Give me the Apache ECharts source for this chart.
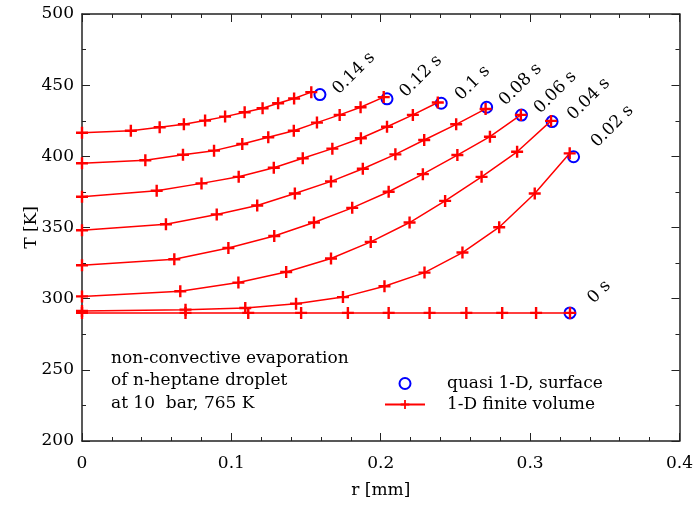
<!DOCTYPE html>
<html><head><meta charset="utf-8">
<script src="https://cdn.jsdelivr.net/npm/echarts@6/dist/echarts.min.js"></script>
<style>html,body{margin:0;padding:0;background:#fff}#c{width:696px;height:508px}</style>
</head><body><div id="c"></div>
<script>
// ---- data ----
const timeLabels = ['0 s', '0.02 s', '0.04 s', '0.06 s', '0.08 s', '0.1 s', '0.12 s', '0.14 s'];

const r_t000 = [0, 0.0693, 0.1113, 0.1467, 0.178, 0.2053, 0.2327, 0.2573, 0.2813, 0.304, 0.3267];
const T_t000 = [290, 290, 290, 290, 290, 290, 290, 290, 290, 290, 290];
const r_t002 = [0, 0.0693, 0.1093, 0.1433, 0.1747, 0.2025, 0.2293, 0.2547, 0.2793, 0.3031, 0.3265];
const T_t002 = [291.3, 292.3, 293.4, 296.5, 301.1, 308.7, 318.3, 332.4, 350.2, 373.9, 402.1];
const r_t004 = [0, 0.0658, 0.1047, 0.1367, 0.1667, 0.1933, 0.2193, 0.2431, 0.2675, 0.2913, 0.314];
const T_t004 = [301.6, 305.2, 311.3, 318.7, 328.2, 339.9, 353.5, 368.7, 385.6, 403.2, 424.9];
const r_t006 = [0, 0.0618, 0.098, 0.1287, 0.1553, 0.1809, 0.2053, 0.2282, 0.2513, 0.2731, 0.2938];
const T_t006 = [323.5, 327.7, 335.6, 344, 353.5, 363.8, 375.1, 387.5, 400.9, 413.8, 429.1];
const r_t008 = [0, 0.0562, 0.0902, 0.1173, 0.1425, 0.1667, 0.188, 0.2098, 0.2291, 0.2505, 0.2702];
const T_t008 = [348.1, 352.3, 359.2, 365.5, 373.9, 382.4, 391.3, 401.4, 411.5, 422.5, 433.3];
const r_t010 = [0, 0.05, 0.08, 0.1049, 0.1284, 0.1478, 0.1676, 0.1867, 0.2042, 0.2215, 0.2382];
const T_t010 = [371.6, 375.8, 381, 385.6, 392, 398.6, 405.4, 412.7, 420.8, 429.1, 437.8];
const r_t012 = [0, 0.0424, 0.0676, 0.0884, 0.1073, 0.1247, 0.1418, 0.1573, 0.1725, 0.1865, 0.202];
const T_t012 = [395.1, 397.2, 401.1, 404, 408.7, 413.4, 418, 423.7, 429.1, 434.5, 441.6];
const r_t014 = [0, 0.0327, 0.052, 0.0682, 0.0824, 0.0958, 0.1089, 0.1209, 0.1313, 0.142, 0.1535];
const T_t014 = [416.6, 418, 420.4, 422.5, 425.1, 427.9, 431, 433.8, 437.3, 440.6, 445.1];

// quasi 1-D surface points (one per time)
const surfR = [0.3267, 0.3291, 0.3147, 0.2942, 0.2709, 0.2405, 0.2042, 0.1593];
const surfT = [290, 399.7, 424.4, 429, 434.5, 437.3, 440.4, 443.4];

const xTicks = { min: 0, max: 0.4, interval: 0.1 };
const yTicks = { min: 200, max: 500, interval: 50 };

// ---- chart ----
const FONT = 'DejaVu Serif';
const TXT = '#000';
const plusPath = 'path://M4.8,0H7.2V4.8H12V7.2H7.2V12H4.8V7.2H0V4.8H4.8Z';
// label placement (text-local offsets for the rotated time labels)
const labelOffsetStyle = [[23, 6], [23, 6], [16, 10], [14, 8], [14, 8], [16, 8], [14, 8], [13, 9]];
const fvR = [r_t000, r_t002, r_t004, r_t006, r_t008, r_t010, r_t012, r_t014];
const fvT = [T_t000, T_t002, T_t004, T_t006, T_t008, T_t010, T_t012, T_t014];

const lineSeries = fvR.map((rs, i) => ({
  name: '1-D finite volume',
  type: 'line',
  data: rs.map((r, j) => [r, fvT[i][j]]),
  symbol: plusPath,
  symbolSize: 12,
  showAllSymbol: true,
  lineStyle: { color: '#ff0000', width: 1.5 },
  itemStyle: { color: '#ff0000', opacity: 1 },
  z: 3,
  animation: false
}));

const circleSeries = {
  name: 'quasi 1-D, surface',
  type: 'scatter',
  symbol: 'emptyCircle',
  symbolSize: 11,
  itemStyle: { color: '#0000ff', borderColor: '#0000ff', borderWidth: 2.5, opacity: 1 },
  z: 2,
  animation: false,
  data: surfR.map((r, i) => ({
    value: [r, surfT[i]],
    label: {
      show: true,
      formatter: timeLabels[i],
      position: 'inside',
      align: 'left',
      verticalAlign: 'middle',
      rotate: 45,
      offset: labelOffsetStyle[i],
      fontFamily: FONT,
      fontSize: 17,
      color: TXT
    }
  }))
};

const axisCommon = {
  type: 'value',
  splitLine: { show: false },
  axisLine: { show: true, onZero: false, lineStyle: { color: '#222', width: 1.5 } },
  axisTick: { show: true, inside: true, length: 8, lineStyle: { color: '#222', width: 1 } },
  minorTick: { show: true, length: 4, lineStyle: { color: '#222', width: 1 } },
  axisLabel: { fontFamily: FONT, fontSize: 17, color: TXT }
};

const option = {
  backgroundColor: '#fff',
  animation: false,
  grid: { left: 82, right: 14, top: 14, bottom: 67 },
  xAxis: [
    Object.assign({}, axisCommon, xTicks, {
      position: 'bottom',
      minorTick: Object.assign({}, axisCommon.minorTick, { splitNumber: 5 }),
      axisLabel: Object.assign({}, axisCommon.axisLabel, { margin: 14, formatter: v => String(Math.round(v * 10) / 10) }),
      name: 'r [mm]', nameLocation: 'middle', nameGap: 41, nameMoveOverlap: false,
      nameTextStyle: { fontFamily: FONT, fontSize: 17, color: TXT }
    }),
    Object.assign({}, axisCommon, xTicks, {
      position: 'top',
      minorTick: Object.assign({}, axisCommon.minorTick, { splitNumber: 5 }),
      axisLabel: { show: false }
    })
  ],
  yAxis: [
    Object.assign({}, axisCommon, yTicks, {
      position: 'left',
      minorTick: Object.assign({}, axisCommon.minorTick, { splitNumber: 2 }),
      axisLabel: Object.assign({}, axisCommon.axisLabel, { margin: 8 }),
      name: 'T [K]', nameLocation: 'middle', nameGap: 42, nameMoveOverlap: false,
      nameTextStyle: { fontFamily: FONT, fontSize: 17, color: TXT }
    }),
    Object.assign({}, axisCommon, yTicks, {
      position: 'right',
      minorTick: Object.assign({}, axisCommon.minorTick, { splitNumber: 2 }),
      axisLabel: { show: false }
    })
  ],
  legend: {
    orient: 'vertical',
    left: 379, top: 370,
    itemWidth: 40, itemHeight: 11, itemGap: 4,
    data: ['quasi 1-D, surface', '1-D finite volume'],
    textStyle: { fontFamily: FONT, fontSize: 17, color: TXT, padding: [0, 0, 0, 17] }
  },
  graphic: [{
    type: 'text', left: 111, top: 347,
    style: {
      text: 'non-convective evaporation\nof n-heptane droplet\nat 10  bar, 765 K',
      font: '17px "DejaVu Serif"', fill: TXT, lineHeight: 22.5
    }
  }],
  series: [circleSeries].concat(lineSeries)
};

const chart = echarts.init(document.getElementById('c'), null, { renderer: 'canvas' });
chart.setOption(option);
</script></body></html>
